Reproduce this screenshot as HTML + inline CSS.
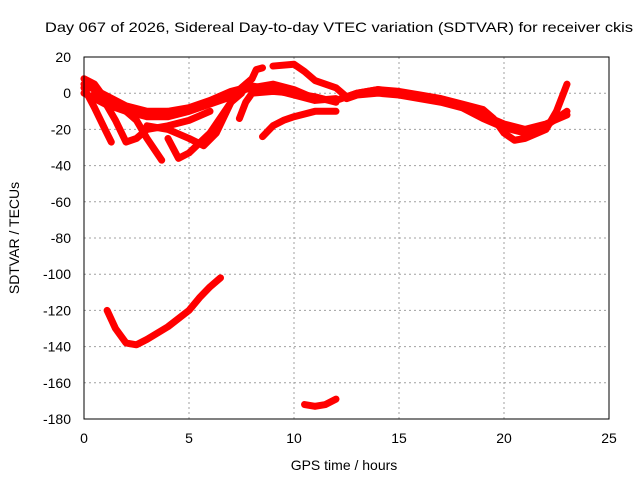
<!DOCTYPE html>
<html><head><meta charset="utf-8"><style>
body{margin:0;background:#fff;}
svg text{font-family:"Liberation Sans",sans-serif;font-size:14px;fill:#000;}
</style></head><body>
<svg id="chart" width="640" height="480" xmlns="http://www.w3.org/2000/svg">
<text x="45" y="32" textLength="588" lengthAdjust="spacingAndGlyphs">Day 067 of 2026, Sidereal Day-to-day VTEC variation (SDTVAR) for receiver ckis</text>
<g id="grid"></g>
<g id="ticks"></g>
<g id="series"></g>
<rect x="84" y="57" width="525" height="362" fill="none" stroke="#000" stroke-width="1"/>
<text x="344" y="470" text-anchor="middle">GPS time / hours</text>
<text transform="translate(19,238) rotate(-90)" text-anchor="middle">SDTVAR / TECUs</text>
</svg>
<script>
const xTicks=[0,5,10,15,20,25];
const yTicks=[20,0,-20,-40,-60,-80,-100,-120,-140,-160,-180];
const s1=[[0,0],[1,-6],[2,-10],[3,-13],[4,-13],[5,-10],[6,-6],[7,-2],[7.5,3],[8,8],[8.2,13],[8.5,14]];
const s2=[[0,8],[0.5,5],[1,-3],[2,-9],[3,-11],[4,-12],[5,-9],[6,-5],[7,0],[8,3],[9,5],[10,2],[11,-3],[12,-4],[13,0],[14,2],[15,0],[16,-2],[17,-4],[18,-7],[19,-12],[20,-17],[21,-20],[22,-17],[23,-12]];
const s3=[[0,3],[0.5,-8],[1,-20],[1.3,-27]];
const s4=[[0.5,0],[1,-5],[1.5,-15],[2,-27],[2.5,-25],[3,-20],[4,-18],[5,-15],[6,-10]];
const s5=[[1.5,-5],[2.5,-15],[3,-25],[3.7,-37]];
const s6=[[4,-25],[4.5,-36],[5,-33],[6,-22],[7,-5],[7.5,3],[8,8]];
const s7=[[3,-18],[4,-20],[5,-25],[5.7,-29],[6.3,-22],[7,-5],[7.5,0]];
const s8=[[7.4,-14],[7.7,-5],[8,0],[9,1],[10,0],[11,-2],[12,-5]];
const s9=[[8.5,-24],[9,-18],[9.5,-15],[10,-13],[11,-10],[12,-10]];
const s10=[[9,15],[10,16],[10.5,12],[11,7],[12,3],[12.5,-2],[13,0],[14,2],[15,1],[16,-1],[17,-3],[18,-6],[19,-9],[19.5,-14],[20,-22],[20.5,-26],[21,-25],[22,-20],[22.5,-10],[23,5]];
const s11=[[1.1,-120],[1.5,-130],[2,-138],[2.5,-139],[3,-136],[4,-129],[5,-120],[5.5,-113],[6,-107],[6.5,-102]];
const s12=[[10.5,-172],[11,-173],[11.5,-172],[12,-169]];
const s13=[[0,5],[1,-1],[2,-7],[3,-10],[4,-10],[5,-8],[6,-4],[7,1],[8,4],[9,2],[10,-1],[11,-4],[12,-3]];
const s14=[[12.5,-3],[13,-1],[14,0],[15,-1],[16,-3],[17,-5],[18,-8],[19,-14],[20,-19],[21,-22],[22,-18],[23,-10]];
const allSeries=[s1,s2,s3,s4,s5,s6,s7,s8,s9,s10,s11,s12,s13,s14];
const NS="http://www.w3.org/2000/svg";
const X=h=>84+h*21, Y=v=>57+(20-v)*1.81;
const grid=document.getElementById('grid'),ticks=document.getElementById('ticks'),ser=document.getElementById('series');
function mk(tag,attrs){const e=document.createElementNS(NS,tag);for(const k in attrs)e.setAttribute(k,attrs[k]);return e;}
xTicks.forEach(t=>{
 if(t>0&&t<25){const l=mk('line',{x1:X(t),x2:X(t),y1:57,y2:419,stroke:'#a0a0a0','stroke-dasharray':'2,3'});
 
 grid.appendChild(l);}
 const tx=mk('text',{x:X(t),y:443,'text-anchor':'middle'});tx.textContent=t;
 
 ticks.appendChild(tx);
});
yTicks.forEach(t=>{
 if(t<20&&t>-180){const l=mk('line',{x1:84,x2:609,y1:Y(t),y2:Y(t),stroke:'#a0a0a0','stroke-dasharray':'2,3'});
 
 grid.appendChild(l);}
 const tx=mk('text',{x:71,y:Y(t)+5,'text-anchor':'end'});tx.textContent=t;
 
 ticks.appendChild(tx);
});
allSeries.forEach((s,i)=>{
 const p=mk('polyline',{points:s.map(d=>X(d[0])+','+Y(d[1])).join(' '),fill:'none',stroke:'#ff0000','stroke-width':7,'stroke-linejoin':'round','stroke-linecap':'round'});
 
 
 ser.appendChild(p);
});
</script>
</body></html>
